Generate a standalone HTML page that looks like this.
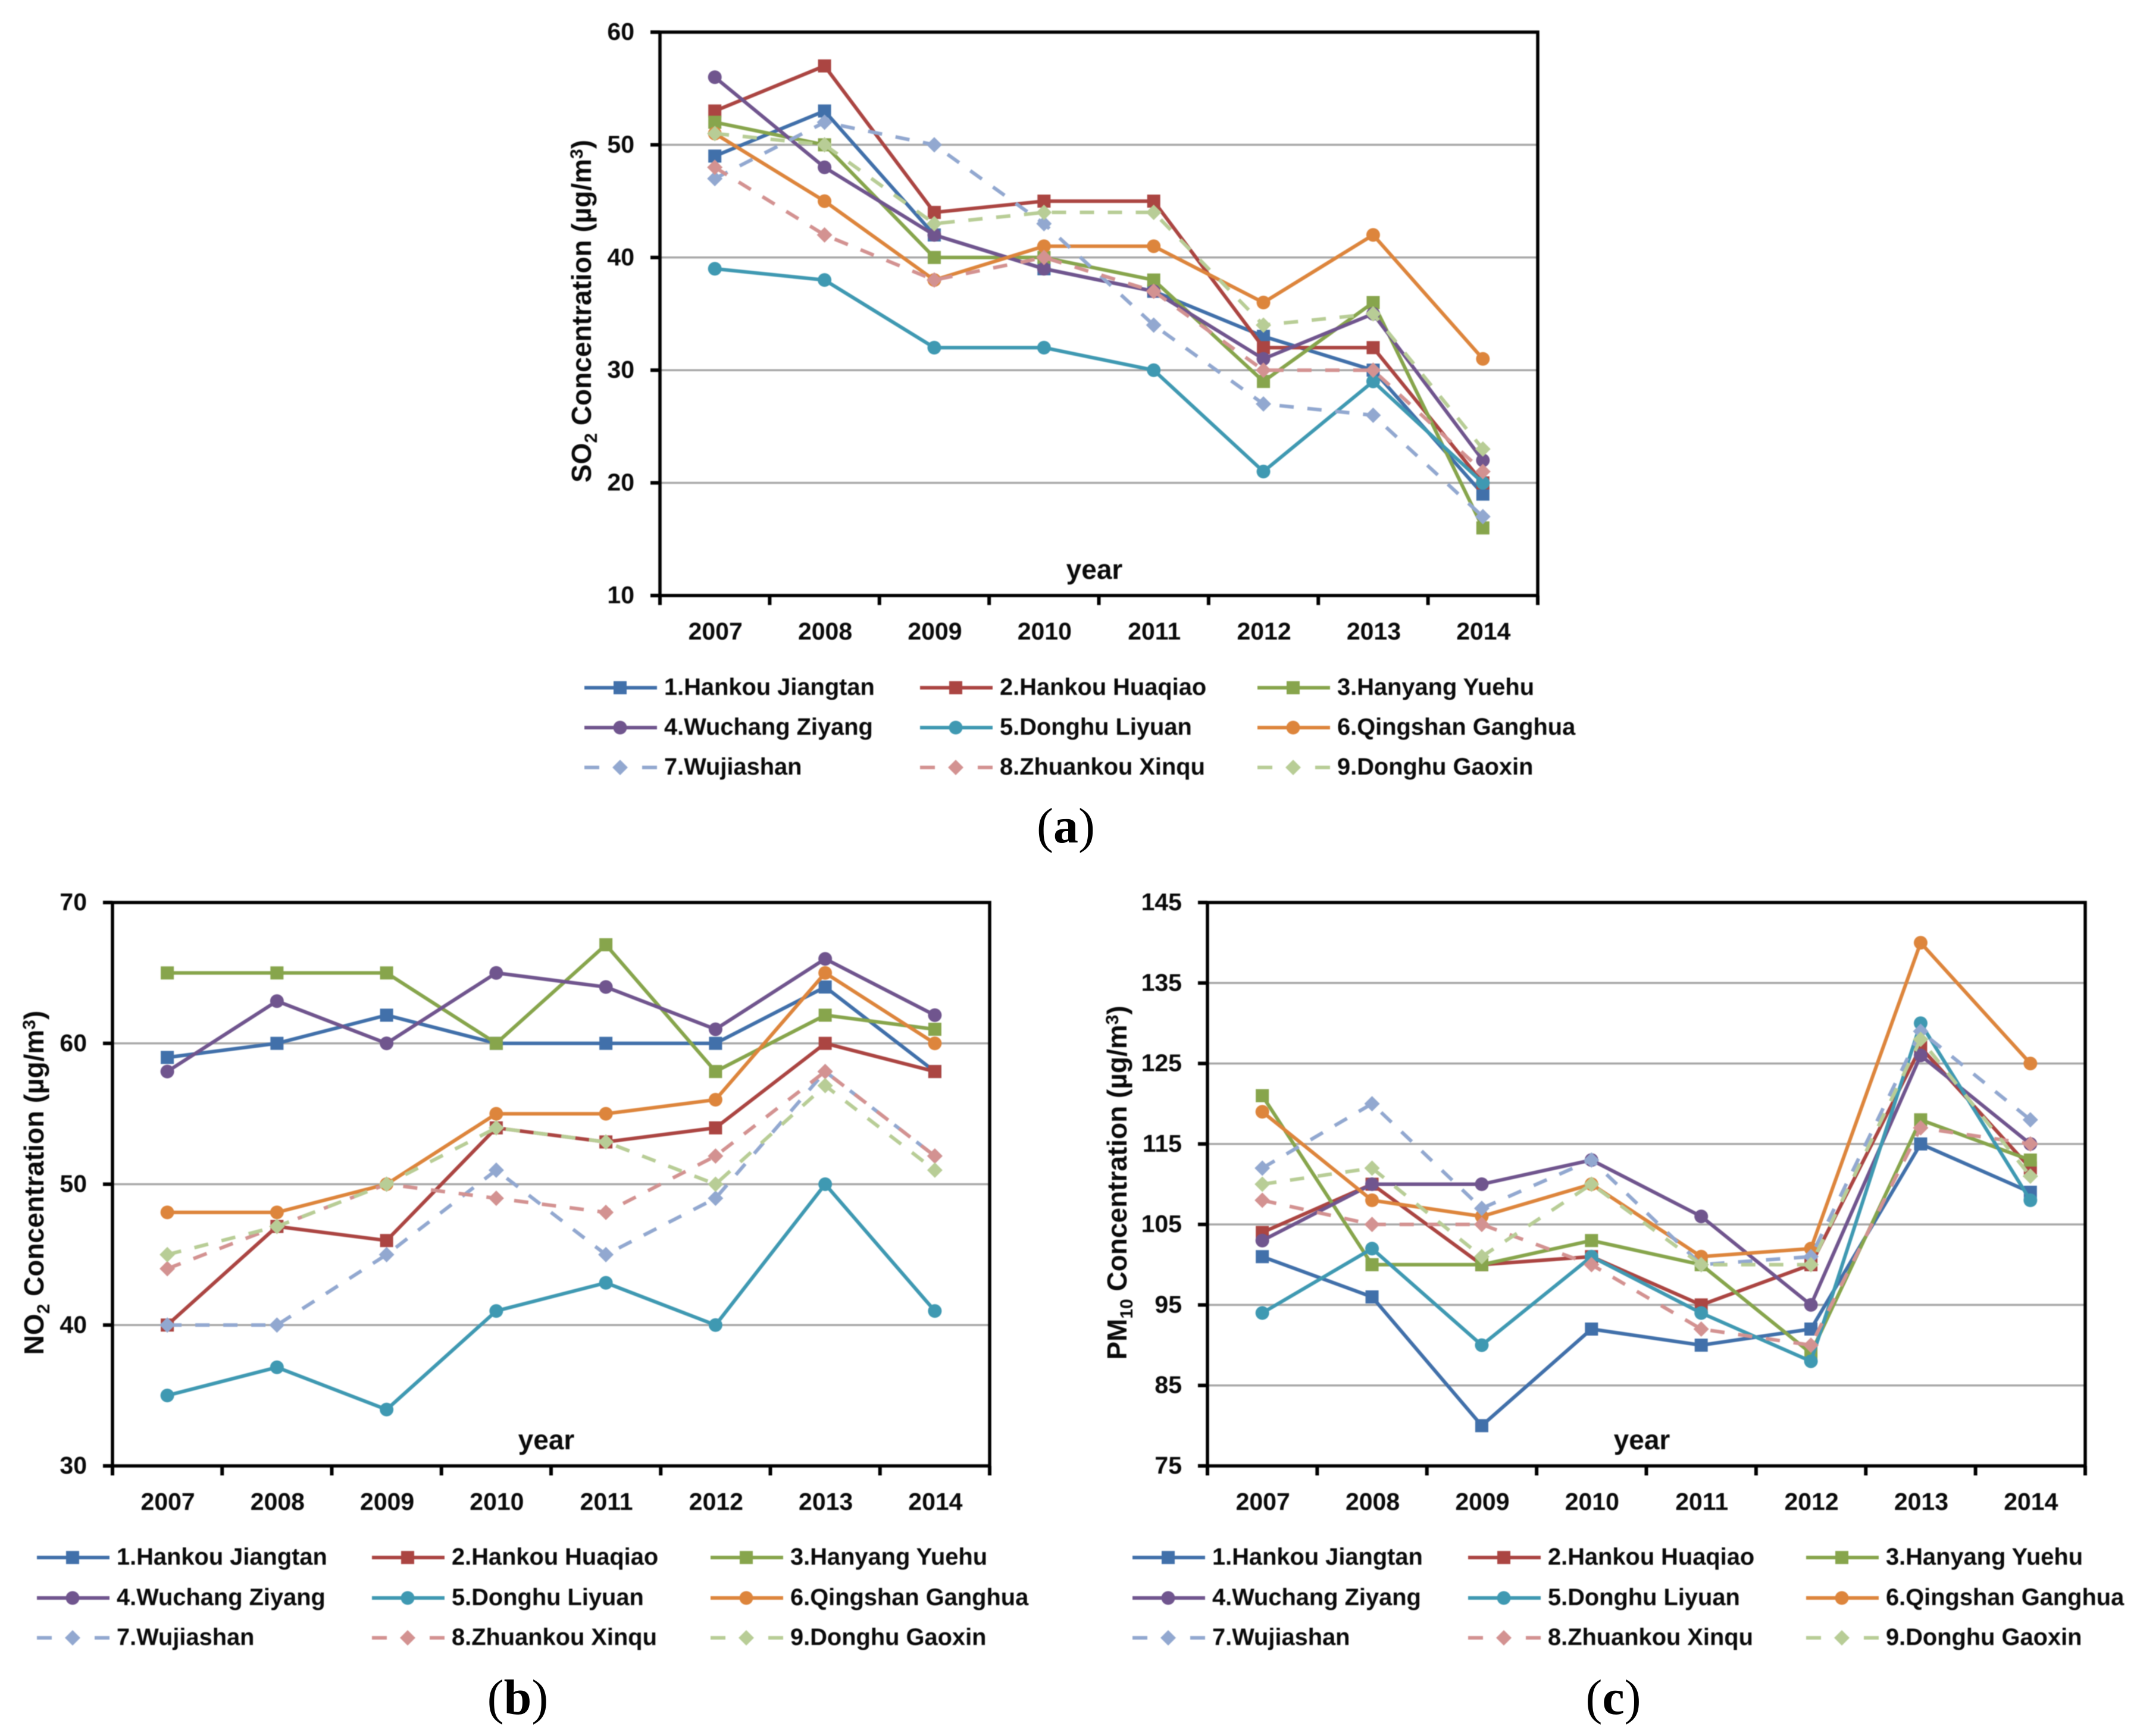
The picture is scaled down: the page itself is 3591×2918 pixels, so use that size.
<!DOCTYPE html>
<html lang="en">
<head>
<meta charset="utf-8">
<title>Air pollutant concentrations in Wuhan, 2007-2014</title>
<style>
html,body{margin:0;padding:0;background:#fff;}
body{width:3591px;height:2918px;overflow:hidden;}
svg{display:block;}
g.panel{filter:blur(0.9px);}
text{font-family:"Liberation Sans",sans-serif;font-weight:700;fill:#0a0a0a;}
text.cap{font-family:"Liberation Serif",serif;font-size:84px;font-weight:400;fill:#000;}
.cap .bold{font-weight:700;}
</style>
</head>
<body>
<svg id="fig" xmlns="http://www.w3.org/2000/svg" width="3591" height="2918" viewBox="0 0 3591 2918">
<text class="cap" x="1791" y="1416" text-anchor="middle">(<tspan class="bold">a</tspan>)</text>
<text class="cap" x="870" y="2881" text-anchor="middle">(<tspan class="bold">b</tspan>)</text>
<text class="cap" x="2711" y="2881" text-anchor="middle">(<tspan class="bold">c</tspan>)</text>
</svg>
<script>
const years = [2007, 2008, 2009, 2010, 2011, 2012, 2013, 2014];
const stationNames = ['1.Hankou Jiangtan', '2.Hankou Huaqiao', '3.Hanyang Yuehu', '4.Wuchang Ziyang', '5.Donghu Liyuan', '6.Qingshan Ganghua', '7.Wujiashan', '8.Zhuankou Xinqu', '9.Donghu Gaoxin'];

const so2Ticks = [10, 20, 30, 40, 50, 60];
const so2Jiangtan = [49, 53, 42, 39, 37, 33, 30, 19];
const so2Huaqiao = [53, 57, 44, 45, 45, 32, 32, 20];
const so2Yuehu = [52, 50, 40, 40, 38, 29, 36, 16];
const so2Ziyang = [56, 48, 42, 39, 37, 31, 35, 22];
const so2Liyuan = [39, 38, 32, 32, 30, 21, 29, 20];
const so2Ganghua = [51, 45, 38, 41, 41, 36, 42, 31];
const so2Wujiashan = [47, 52, 50, 43, 34, 27, 26, 17];
const so2Zhuankou = [48, 42, 38, 40, 37, 30, 30, 21];
const so2Gaoxin = [51, 50, 43, 44, 44, 34, 35, 23];

const no2Ticks = [30, 40, 50, 60, 70];
const no2Jiangtan = [59, 60, 62, 60, 60, 60, 64, 58];
const no2Huaqiao = [40, 47, 46, 54, 53, 54, 60, 58];
const no2Yuehu = [65, 65, 65, 60, 67, 58, 62, 61];
const no2Ziyang = [58, 63, 60, 65, 64, 61, 66, 62];
const no2Liyuan = [35, 37, 34, 41, 43, 40, 50, 41];
const no2Ganghua = [48, 48, 50, 55, 55, 56, 65, 60];
const no2Wujiashan = [40, 40, 45, 51, 45, 49, 58, 52];
const no2Zhuankou = [44, 47, 50, 49, 48, 52, 58, 52];
const no2Gaoxin = [45, 47, 50, 54, 53, 50, 57, 51];

const pm10Ticks = [75, 85, 95, 105, 115, 125, 135, 145];
const pm10Jiangtan = [101, 96, 80, 92, 90, 92, 115, 109];
const pm10Huaqiao = [104, 110, 100, 101, 95, 100, 127, 112];
const pm10Yuehu = [121, 100, 100, 103, 100, 89, 118, 113];
const pm10Ziyang = [103, 110, 110, 113, 106, 95, 126, 115];
const pm10Liyuan = [94, 102, 90, 101, 94, 88, 130, 108];
const pm10Ganghua = [119, 108, 106, 110, 101, 102, 140, 125];
const pm10Wujiashan = [112, 120, 107, 113, 100, 101, 129, 118];
const pm10Zhuankou = [108, 105, 105, 100, 92, 90, 117, 115];
const pm10Gaoxin = [110, 112, 101, 110, 100, 100, 128, 111];

const so2Series = [so2Jiangtan, so2Huaqiao, so2Yuehu, so2Ziyang, so2Liyuan, so2Ganghua, so2Wujiashan, so2Zhuankou, so2Gaoxin];
const no2Series = [no2Jiangtan, no2Huaqiao, no2Yuehu, no2Ziyang, no2Liyuan, no2Ganghua, no2Wujiashan, no2Zhuankou, no2Gaoxin];
const pm10Series = [pm10Jiangtan, pm10Huaqiao, pm10Yuehu, pm10Ziyang, pm10Liyuan, pm10Ganghua, pm10Wujiashan, pm10Zhuankou, pm10Gaoxin];

const seriesColors = ['#4170aa', '#ab4542', '#87a54c', '#70558e', '#3f99b2', '#dd853c', '#92a8d0', '#d39291', '#b8cd96'];
const seriesMarkers = ['square', 'square', 'square', 'circle', 'circle', 'circle', 'diamond', 'diamond', 'diamond'];

const svg = document.getElementById('fig');
const NS = 'http://www.w3.org/2000/svg';

function make(tag, attrs, parent) {
  const el = document.createElementNS(NS, tag);
  for (const k in attrs) el.setAttribute(k, attrs[k]);
  parent.appendChild(el);
  return el;
}

function drawMarker(kind, x, y, color, parent) {
  let m;
  if (kind === 'square') {
    m = make('rect', {x: x - 11, y: y - 11, width: 22, height: 22, fill: color}, parent);
  } else if (kind === 'circle') {
    m = make('circle', {cx: x, cy: y, r: 11.5, fill: color}, parent);
  } else {
    m = make('polygon', {points: (x - 13) + ',' + y + ' ' + x + ',' + (y - 13) + ' ' + (x + 13) + ',' + y + ' ' + x + ',' + (y + 13), fill: color}, parent);
  }
  
  
}

function drawYTitle(p, parent) {
  const t = make('text', {transform: 'translate(' + p.titleX + ',' + p.titleY + ') rotate(-90)', 'text-anchor': 'middle', 'font-size': 46}, parent);
  
  
  const parts = [[p.titleHead, 0, 46], [p.titleSub, 10, 30], [p.titleGap + 'Concentration (µg/m', -10, 46], ['3', -14, 30], [')', 14, 46]];
  parts.forEach(function (part) {
    const s = make('tspan', {dy: part[1], 'font-size': part[2]}, t);
    s.textContent = part[0];
  });
}

function drawPanel(p) {
  const g = make('g', {class: 'panel'}, svg);
  
  

  const w = p.right - p.left;
  const h = p.bottom - p.top;
  const xPos = function (i) { return p.left + (i + 0.5) * w / years.length; };
  const yMin = p.ticks[0];
  const yMax = p.ticks[p.ticks.length - 1];
  const yPos = function (v) { return p.bottom - (v - yMin) / (yMax - yMin) * h; };

  p.ticks.forEach(function (tick, i) {
    const y = yPos(tick);
    if (i > 0 && i < p.ticks.length - 1) {
      const grid = make('line', {x1: p.left, x2: p.right, y1: y, y2: y, stroke: '#a8a8a8', 'stroke-width': 3.5}, g);
      
      
    }
    const mark = make('line', {x1: p.left - 16, x2: p.left, y1: y, y2: y, stroke: '#000', 'stroke-width': 6}, g);
    
    
    const label = make('text', {x: p.left - 43, y: y + 13, 'text-anchor': 'end', 'font-size': 41}, g);
    
    
    label.textContent = tick;
  });

  for (let i = 0; i <= years.length; i++) {
    const x = p.left + i * w / years.length;
    const mark = make('line', {x1: x, x2: x, y1: p.bottom, y2: p.bottom + 16, stroke: '#000', 'stroke-width': 6}, g);
    
    
  }
  years.forEach(function (yr, i) {
    const label = make('text', {x: xPos(i) + 1, y: p.bottom + 74, 'text-anchor': 'middle', 'font-size': 41}, g);
    
    
    label.textContent = yr;
  });

  p.series.forEach(function (values, s) {
    const sg = make('g', {}, g);
    
    
    const pts = values.map(function (v, i) { return xPos(i) + ',' + yPos(v); }).join(' ');
    const attrs = {points: pts, fill: 'none', stroke: seriesColors[s], 'stroke-width': 6, 'stroke-linejoin': 'round'};
    if (s >= 6) attrs['stroke-dasharray'] = '24 23';
    const line = make('polyline', attrs, sg);
    
    
    values.forEach(function (v, i) { drawMarker(seriesMarkers[s], xPos(i), yPos(v), seriesColors[s], sg); });
  });

  const frame = make('rect', {x: p.left, y: p.top, width: w, height: h, fill: 'none', stroke: '#000', 'stroke-width': 5.5}, g);
  
  

  const yearLabel = make('text', {x: p.yearX, y: p.bottom - 28, 'text-anchor': 'middle', 'font-size': 46}, g);
  
  
  yearLabel.textContent = 'year';

  drawYTitle(p, g);

  const lg = make('g', {}, g);
  
  
  stationNames.forEach(function (name, s) {
    const col = s % 3;
    const row = Math.floor(s / 3);
    const x0 = p.legendCols[col];
    const y = p.legendRows[row];
    const entry = make('g', {}, lg);
    
    
    const attrs = {x1: x0, x2: x0 + 122, y1: y, y2: y, stroke: seriesColors[s], 'stroke-width': 6};
    if (s >= 6) attrs['stroke-dasharray'] = '25 72 25';
    const swatch = make('line', attrs, entry);
    
    
    drawMarker(seriesMarkers[s], x0 + 60, y, seriesColors[s], entry);
    const label = make('text', {x: x0 + 134, y: y + 12, 'font-size': 39.8}, entry);
    
    
    label.textContent = name;
  });
}

drawPanel({
  name: 'so2-chart', series: so2Series, ticks: so2Ticks,
  left: 1109, right: 2584, top: 54, bottom: 1001,
  yearX: 1839, titleX: 993, titleY: 523, titleHead: 'SO', titleSub: '2', titleGap: ' ',
  legendCols: [982, 1546, 2113], legendRows: [1156, 1223, 1290]
});
drawPanel({
  name: 'no2-chart', series: no2Series, ticks: no2Ticks,
  left: 189, right: 1663, top: 1517, bottom: 2464,
  yearX: 918, titleX: 73, titleY: 1988, titleHead: 'NO', titleSub: '2', titleGap: ' ',
  legendCols: [62, 625, 1194], legendRows: [2618, 2686, 2753]
});
drawPanel({
  name: 'pm10-chart', series: pm10Series, ticks: pm10Ticks,
  left: 2029, right: 3504, top: 1517, bottom: 2464,
  yearX: 2759, titleX: 1893, titleY: 1988, titleHead: 'PM', titleSub: '10', titleGap: '  ',
  legendCols: [1903, 2467, 3035], legendRows: [2618, 2686, 2753]
});
</script>
</body>
</html>
